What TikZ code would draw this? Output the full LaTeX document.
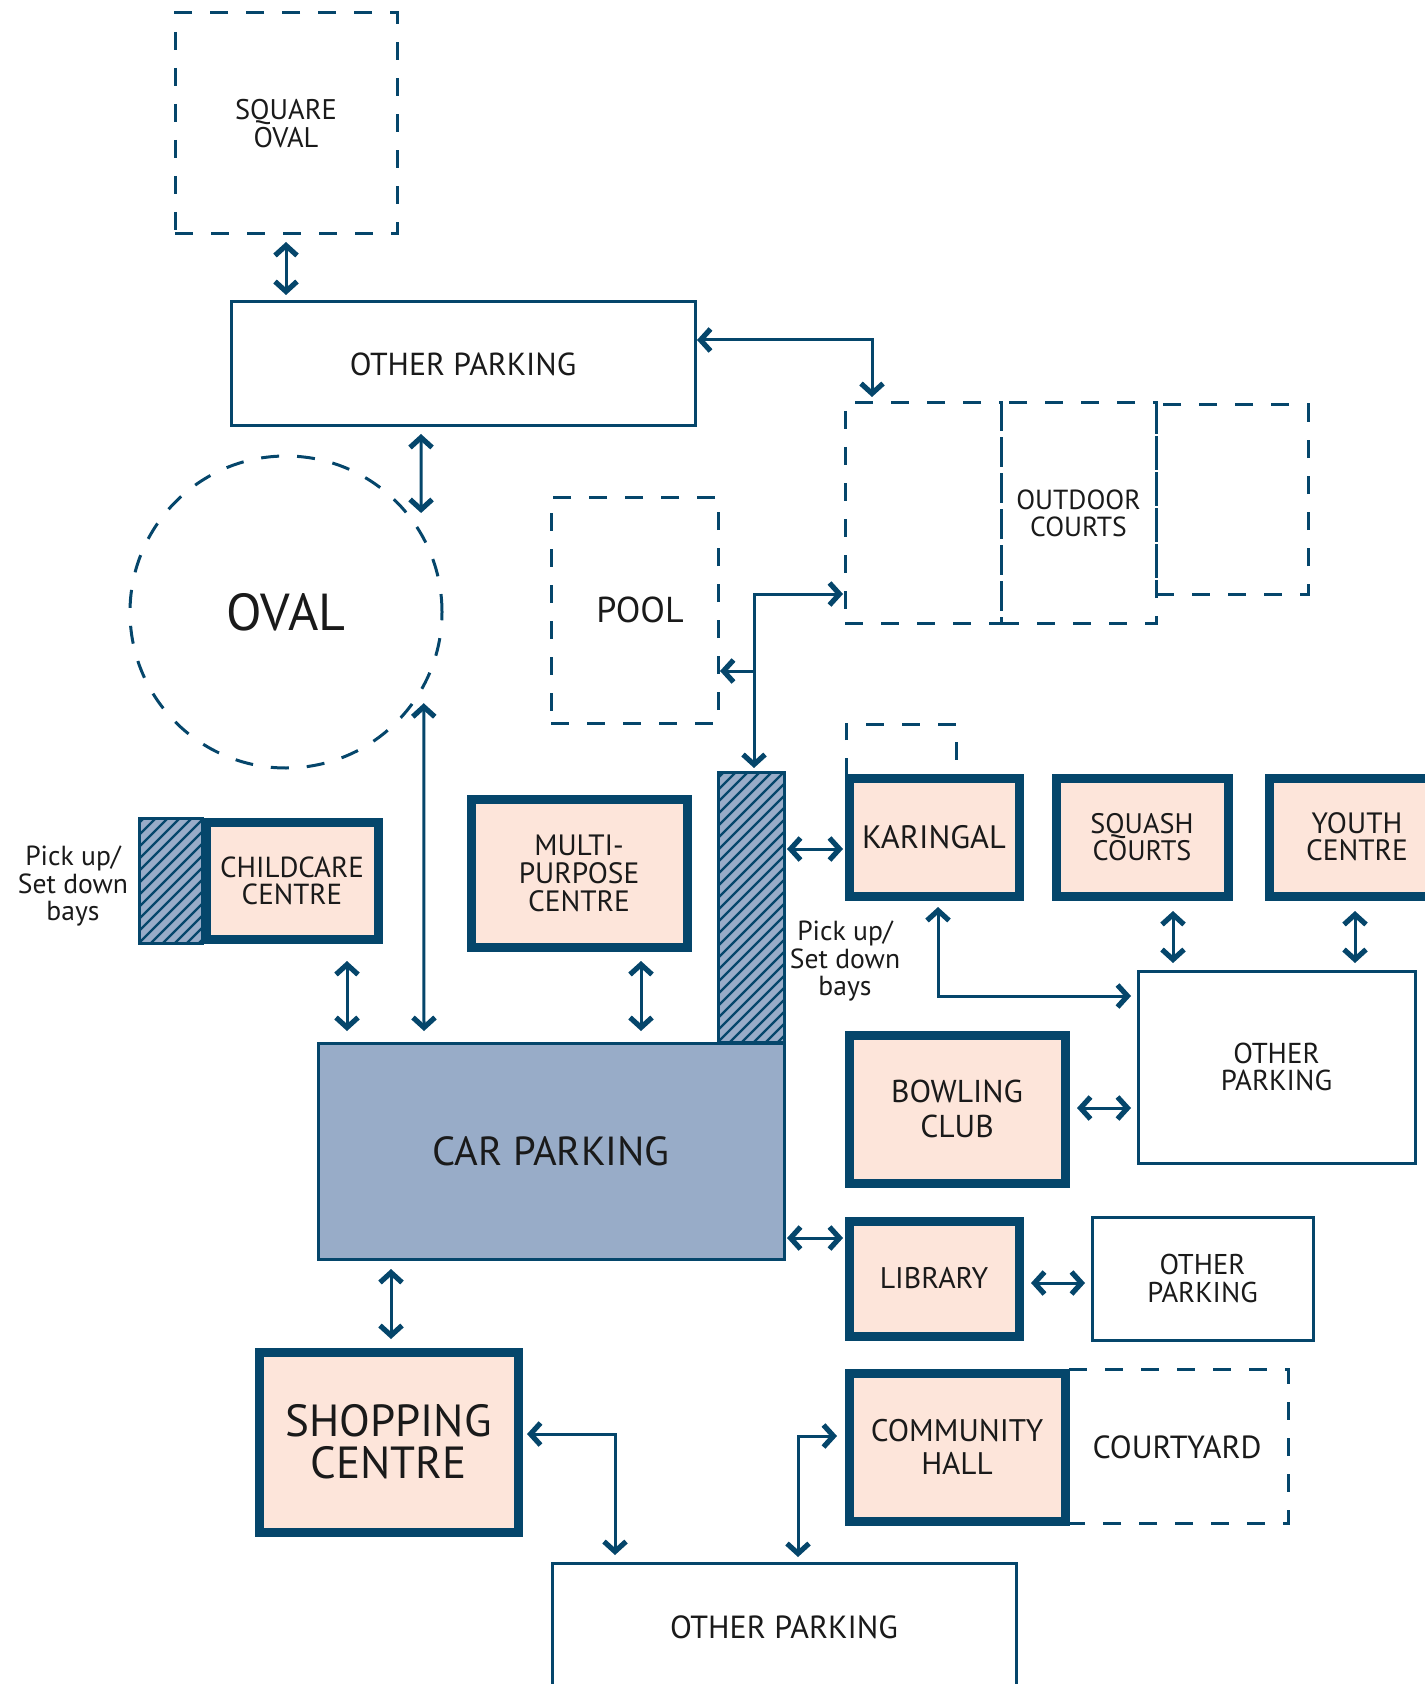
\documentclass[tikz,border=0pt]{standalone}
\usepackage{fontspec}
\setmainfont{PT Sans}
\usetikzlibrary{arrows.meta}
\definecolor{navy}{HTML}{05466B}
\definecolor{peach}{HTML}{FDE5DA}
\definecolor{cpblue}{HTML}{98ACC8}
\definecolor{ink}{HTML}{1A1A1A}
\tikzset{
  chev/.tip={Straight Barb[length=5pt,width=11pt,line width=2.6pt]},
  fs/.style 2 args={font=\fontsize{#1pt}{#2pt}\selectfont},
  % rectangle spanning (x1,y1)-(x2,y2), given in picture units (1 unit = 0.5pt)
  spot/.style n args={4}{at={({(#1+#3)/2},{(#2+#4)/2})},
    minimum width={(#3-#1)*0.5pt}, minimum height={(#4-#2)*0.5pt}},
}
\begin{document}
\begin{tikzpicture}[x=0.5pt,y=-0.5pt,
  every node/.style={inner sep=0pt, outer sep=0pt, align=center, text=ink},
  zone/.style={draw=navy, line width=1.5pt, dash pattern=on 9pt off 9pt},
  facility/.style={draw=navy, line width=4.5pt, fill=peach},
  lot/.style={draw=navy, line width=1.5pt, fill=white},
  carpark/.style={draw=navy, line width=1.5pt, fill=cpblue},
  bays/.style={draw=navy, line width=1.5pt, fill=cpblue,
    path picture={
      \foreach \k in {0,...,40}
        \draw[navy, line width=1.1pt]
          ([shift={(-360+\k*12,0)}]path picture bounding box.south west) -- ++(420,-420);
    }},
  link/.style={draw=navy, line width=1.5pt, chev-chev},
  onelink/.style={draw=navy, line width=1.5pt, -chev},
]
\useasboundingbox (0,0) rectangle (1424,1684);

% ---- open spaces (dashed) ----
\node[zone, spot={175}{13}{397}{234}, fs={14.2}{14}] (sq) {SQUARE\\OVAL};
\node[zone, circle, minimum size=156pt, fs={26}{26}] (oval) at (286,612) {OVAL};
\node[zone, spot={551}{497}{718}{723}, fs={18}{18}] (pool) {\hspace*{5.5pt}POOL};
\node[zone, spot={845}{403}{1001}{623}] (courtsA) {};
\node[zone, spot={1001}{403}{1156}{623}, fs={13.8}{13.5}] (courtsB) {OUTDOOR\\COURTS};
\node[zone, spot={1156}{405}{1308}{594}] (courtsC) {};
\draw[zone] (846,776) -- (846,724) -- (956,724) -- (956,776);
\draw[zone] (1069,1369) -- (1288,1369) -- (1288,1523) -- (1069,1523);
\node[fs={16}{16}] (court) at (1177,1447) {COURTYARD};

% ---- parking ----
\node[lot, spot={231}{302}{695}{426}, fs={15.9}{15.9}] (op1) {OTHER PARKING};
\node[carpark, spot={318}{1043}{784}{1259}, fs={20.3}{20}] (car) {\raisebox{0pt}[\height][0pt]{CAR PARKING}};
\node[lot, spot={1138}{971}{1415}{1163}, fs={14.4}{13.5}] (op2) {OTHER\\PARKING};
\node[lot, spot={1092}{1217}{1313}{1340}, fs={14.3}{14}] (op4) {OTHER\\PARKING};
\node[lot, spot={552}{1563}{1016}{1692}, fs={16}{16}] (op3) {OTHER PARKING};

% ---- pick up / set down bays ----
\node[bays, spot={139}{818}{202}{943}] (pickL) {};
\node[bays, spot={718}{772}{784}{1042}] (pickR) {};
\node[fs={13.8}{13.7}] (lblL) at (73,886) {Pick up/\\Set down\\bays};
\node[fs={13.8}{13.7}] (lblR) at (845,961) {Pick up/\\Set down\\bays};

% ---- facilities ----
\node[facility, spot={206}{822}{378}{939}, fs={14.5}{13.5}] (child) {CHILDCARE\\CENTRE};
\node[facility, spot={471}{799}{687}{947}, fs={14.7}{14}] (mpc) {MULTI-\\PURPOSE\\CENTRE};
\node[facility, spot={849}{778}{1019}{896}, fs={16.2}{16}] (kar) {KARINGAL};
\node[facility, spot={1056}{778}{1228}{896}, fs={14.1}{13.5}] (squash) {SQUASH\\COURTS};
\node[facility, spot={1269}{778}{1445}{896}, fs={14.7}{13.5}] (youth) {YOUTH\\CENTRE};
\node[facility, spot={849}{1035}{1065}{1183}, fs={15.8}{17.2}] (bowl) {BOWLING\\CLUB};
\node[facility, spot={849}{1221}{1019}{1336}, fs={14.9}{14}] (lib) {LIBRARY};
\node[facility, spot={259}{1352}{518}{1532}, fs={22.5}{21}] (shop) {SHOPPING\\CENTRE};
\node[facility, spot={849}{1373}{1065}{1521}, fs={15.6}{16.6}] (ch) {COMMUNITY\\HALL};

% ---- connectors ----
\draw[link] ([shift={(0,8)}]sq.south) -- ([shift={(-177,-7)}]op1.north);
\draw[link] ([shift={(2,-24)}]op1.east) -| ([shift={(-51,-6)}]courtsA.north);
\draw[link] ([shift={(-42,8)}]op1.south) -- ([shift={(0,-21)}]oval.30);
\draw[link] ([shift={(-2,81)}]courtsA.west) -| ([shift={(3,-4)}]pickR.north);
\coordinate (tee) at (754,671);
\draw[onelink] (tee) -- ([shift={(2,61)}]pool.east);
\draw[link] ([shift={(55,22)}]child.south) -- ([shift={(-204,-12)}]car.north);
\draw[link] ([shift={(0,18)}]oval.-28) -- ([shift={(-127,-12)}]car.north);
\draw[link] ([shift={(62,14)}]mpc.south) -- ([shift={(90,-12)}]car.north);
\draw[link] ([shift={(3,-58)}]pickR.east) -- ([shift={(-6,12)}]kar.west);
\draw[link] ([shift={(4,11)}]kar.south) |- ([shift={(-7,-71)}]op2.west);
\draw[link] ([shift={(31,15)}]squash.south) -- ([shift={(-103.5,-8)}]op2.north);
\draw[link] ([shift={(-2,15)}]youth.south) -- ([shift={(78.5,-8)}]op2.north);
\draw[link] ([shift={(12,-1)}]bowl.east) -- ([shift={(-7,41)}]op2.west);
\draw[link] ([shift={(3,87)}]car.east) -- ([shift={(-6,-40.5)}]lib.west);
\draw[link] ([shift={(12,4.5)}]lib.east) -- ([shift={(-7,4.5)}]op4.west);
\draw[link] ([shift={(-160,10)}]car.south) -- ([shift={(2.5,-13)}]shop.north);
\draw[link] ([shift={(9,-8)}]shop.east) -| ([shift={(-169,-8)}]op3.north);
\draw[link] ([shift={(14,-6)}]op3.north) |- ([shift={(-12,-11)}]ch.west);
\end{tikzpicture}
\end{document}
